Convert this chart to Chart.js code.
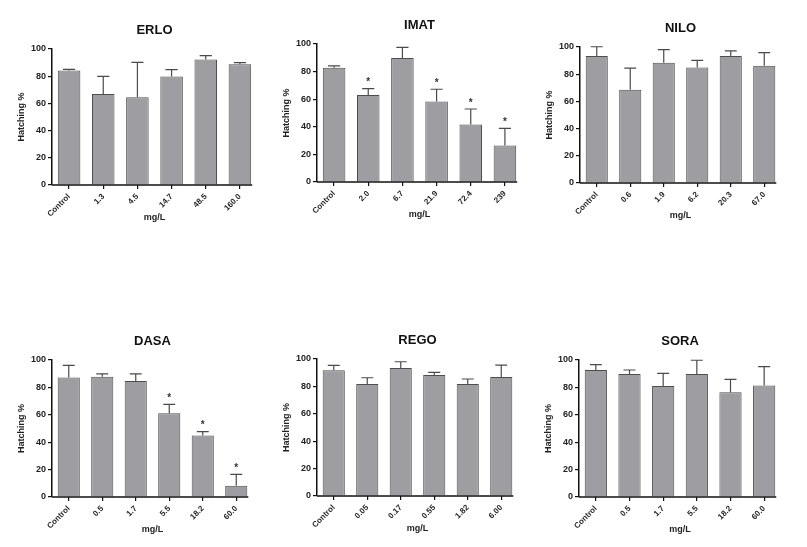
<!DOCTYPE html>
<html>
<head>
<meta charset="utf-8">
<script src="https://cdn.jsdelivr.net/npm/chart.js@4.4.1/dist/chart.umd.min.js"></script>
<style>
    body { margin: 0; background: #fff; }
    #page { position: relative; width: 807px; height: 547px; }
    .panel { position: absolute; }
    #erlo { left: 12px; top: 17px; width: 249px; height: 208px; }
    #imat { left: 277px; top: 12px; width: 249px; height: 210px; }
    #nilo { left: 540px; top: 15px; width: 245px; height: 208px; }
    #dasa { left: 12px; top: 328px; width: 245px; height: 209px; }
    #rego { left: 277px; top: 327px; width: 245px; height: 209px; }
    #sora { left: 539px; top: 328px; width: 246px; height: 209px; }
</style>
</head>
<body>
<div id="page">
    <div class="panel" id="erlo"><canvas id="erloChart"></canvas></div>
    <div class="panel" id="imat"><canvas id="imatChart"></canvas></div>
    <div class="panel" id="nilo"><canvas id="niloChart"></canvas></div>
    <div class="panel" id="dasa"><canvas id="dasaChart"></canvas></div>
    <div class="panel" id="rego"><canvas id="regoChart"></canvas></div>
    <div class="panel" id="sora"><canvas id="soraChart"></canvas></div>
</div>
<script>
// hatching % per concentration (mean, mean + SD, significant vs control)
const erloLabels = ['Control', '1.3', '4.5', '14.7', '48.5', '160.0'];
const erloMeans = [84.1, 66.9, 64.5, 79.7, 92.2, 88.7];
const erloUpper = [85.0, 79.9, 90.2, 84.8, 95.1, 90.0];
const erloSig = [false, false, false, false, false, false];

const imatLabels = ['Control', '2.0', '6.7', '21.9', '72.4', '239'];
const imatMeans = [82.8, 63.1, 89.8, 58.3, 41.7, 26.5];
const imatUpper = [84.2, 67.7, 97.6, 67.2, 52.9, 38.8];
const imatSig = [false, true, false, true, true, true];

const niloLabels = ['Control', '0.6', '1.9', '6.2', '20.3', '67.0'];
const niloMeans = [93.4, 68.5, 88.5, 84.9, 93.4, 86.3];
const niloUpper = [100.2, 84.4, 98.0, 90.2, 97.1, 95.9];
const niloSig = [false, false, false, false, false, false];

const dasaLabels = ['Control', '0.5', '1.7', '5.5', '18.2', '60.0'];
const dasaMeans = [87.3, 87.8, 84.7, 61.1, 44.8, 8.3];
const dasaUpper = [96.1, 89.8, 89.8, 67.6, 47.7, 16.5];
const dasaSig = [false, false, false, true, true, true];

const regoLabels = ['Control', '0.05', '0.17', '0.55', '1.82', '6.00'];
const regoMeans = [91.7, 81.7, 93.4, 88.3, 81.7, 86.8];
const regoUpper = [95.4, 86.3, 98.0, 90.2, 85.4, 95.6];
const regoSig = [false, false, false, false, false, false];

const soraLabels = ['Control', '0.5', '1.7', '5.5', '18.2', '60.0'];
const soraMeans = [92.7, 89.8, 81.0, 89.8, 76.4, 81.3];
const soraUpper = [96.6, 92.7, 90.3, 99.8, 85.9, 95.1];
const soraSig = [false, false, false, false, false, false];

const yTicks = [0, 20, 40, 60, 80, 100];

const FONT = 'Arial, "Liberation Sans", sans-serif';

// draws the upper SD whiskers, the asterisks and a x axis line that stops at the last bar
const errorBars = {
    id: 'errorBars',
    afterDatasetsDraw: function (chart, args, opts) {
        let ctx = chart.ctx;
        let y = chart.scales.y;
        let bars = chart.getDatasetMeta(0).data;
        ctx.save();
        ctx.strokeStyle = '#4a4a4a';
        ctx.lineWidth = 1.2;
        bars.forEach(function (bar, i) {
            let top = y.getPixelForValue(opts.means[i]);
            let cap = y.getPixelForValue(opts.upper[i]);
            let half = bar.width * 0.27;
            ctx.beginPath();
            ctx.moveTo(bar.x, top);
            ctx.lineTo(bar.x, cap);
            ctx.moveTo(bar.x - half, cap);
            ctx.lineTo(bar.x + half, cap);
            ctx.stroke();
            if (opts.sig[i]) {
                ctx.fillStyle = '#333';
                ctx.font = 'bold 10px ' + FONT;
                ctx.textAlign = 'center';
                ctx.textBaseline = 'middle';
                ctx.fillText('*', bar.x, cap - 6);
            }
        });
        let last = bars[bars.length - 1];
        let bottom = y.getPixelForValue(0);
        ctx.strokeStyle = '#111';
        ctx.lineWidth = 1.5;
        ctx.beginPath();
        ctx.moveTo(chart.chartArea.left, bottom);
        ctx.lineTo(last.x + last.width / 2 + 1, bottom);
        ctx.stroke();
        ctx.restore();
    }
};

function makePanel(canvasId, title, labels, means, upper, sig) {
    return new Chart(document.getElementById(canvasId), {
        type: 'bar',
        data: {
            labels: labels,
            datasets: [{
                data: means,
                backgroundColor: '#9e9ea2',
                borderColor: '#4d4d4d',
                borderWidth: 1,
                categoryPercentage: 1,
                barPercentage: 0.66
            }]
        },
        plugins: [errorBars],
        options: {
            responsive: true,
            maintainAspectRatio: false,
            animation: false,
            layout: { padding: { left: 0, right: 4, top: 0, bottom: 2 } },
            plugins: {
                legend: { display: false },
                tooltip: { enabled: false },
                title: {
                    display: true,
                    text: title,
                    color: '#111',
                    fullSize: false,
                    font: { family: FONT, size: 13, weight: 'bold' },
                    padding: { top: 6, bottom: 10.4 }
                },
                errorBars: { means: means, upper: upper, sig: sig }
            },
            scales: {
                x: {
                    grid: {
                        display: true,
                        offset: false,
                        drawOnChartArea: false,
                        drawTicks: true,
                        tickLength: 4,
                        color: '#111',
                        lineWidth: 1.2
                    },
                    border: { display: false },
                    ticks: {
                        color: '#222',
                        font: { family: FONT, size: 8, weight: 'bold' },
                        minRotation: 45,
                        maxRotation: 45,
                        padding: 3,
                        autoSkip: false
                    },
                    title: {
                        display: true,
                        text: 'mg/L',
                        color: '#222',
                        font: { family: FONT, size: 9, weight: 'bold' },
                        padding: { top: 0, bottom: 0 }
                    },
                    afterFit: function (scale) { scale.height = 38; }
                },
                y: {
                    min: 0,
                    max: 100,
                    afterBuildTicks: function (scale) {
                        scale.ticks = yTicks.map(function (v) { return { value: v }; });
                    },
                    grid: {
                        display: true,
                        drawOnChartArea: false,
                        drawTicks: true,
                        tickLength: 4,
                        color: '#111',
                        lineWidth: 1.2
                    },
                    border: { display: true, color: '#111', width: 1.5 },
                    ticks: {
                        color: '#222',
                        font: { family: FONT, size: 9, weight: 'bold' },
                        padding: 2
                    },
                    title: {
                        display: true,
                        text: 'Hatching %',
                        color: '#222',
                        font: { family: FONT, size: 9, weight: 'bold' },
                        padding: { top: 4, bottom: 0 }
                    },
                    afterFit: function (scale) { scale.width = 40; }
                }
            }
        }
    });
}

makePanel('erloChart', 'ERLO', erloLabels, erloMeans, erloUpper, erloSig);
makePanel('imatChart', 'IMAT', imatLabels, imatMeans, imatUpper, imatSig);
makePanel('niloChart', 'NILO', niloLabels, niloMeans, niloUpper, niloSig);
makePanel('dasaChart', 'DASA', dasaLabels, dasaMeans, dasaUpper, dasaSig);
makePanel('regoChart', 'REGO', regoLabels, regoMeans, regoUpper, regoSig);
makePanel('soraChart', 'SORA', soraLabels, soraMeans, soraUpper, soraSig);
</script>
</body>
</html>
